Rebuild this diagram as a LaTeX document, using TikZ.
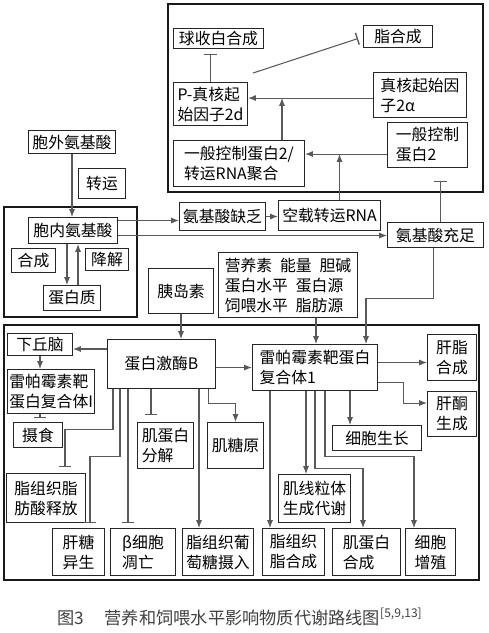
\documentclass[tikz,border=0pt]{standalone}
\usepackage{fontspec}
\setmainfont{Noto Sans CJK SC}
\usetikzlibrary{arrows.meta,calc}

\tikzset{
  box/.style={draw=black!85, line width=0.6pt, inner sep=1pt, anchor=north west, align=left,
    font=\fontsize{9}{11.4}\selectfont},
  frame/.style={draw=black!90, line width=1pt},
  arr/.style={draw=black!65, line width=0.6pt, -{Latex[length=4.5pt,width=3.5pt]}},
  inh/.style={draw=black!65, line width=0.6pt, -{Bar[width=7pt,line width=0.8pt]}},
}

\begin{document}
\begin{tikzpicture}[x=0.02cm, y=-0.02cm]
    \useasboundingbox (0,0) rectangle (488,633);

    % frames
    \draw[frame] (168,4) rectangle (483,192);
    \draw[frame] (4,207) rectangle (137,317);
    \draw[frame] (4,325) rectangle (479,580);

    % top
    \node[box, minimum width=1.8cm, minimum height=0.4cm] (qsb) at (173,28) {球收白合成};
    \node[box, minimum width=1.38cm, minimum height=0.44cm] (zhi) at (363,25) {脂合成};
    \node[box, minimum width=1.48cm, minimum height=0.86cm] (peif) at (173,82) {P-真核起\\始因子2d};
    \node[box, minimum width=1.86cm, minimum height=0.9cm] (eif) at (373,72) {真核起始因\\子2α};
    \node[box, minimum width=1.6cm, minimum height=0.9cm] (gcn) at (387,122) {一般控制\\蛋白2};
    \node[box, minimum width=2.62cm, minimum height=0.92cm] (gcnt) at (173,140) {一般控制蛋白2/\\转运RNA聚合};

    % left
    \node[box, minimum width=1.74cm, minimum height=0.46cm] (extaa) at (28,130) {胞外氨基酸};
    \node[box, minimum width=0.94cm, minimum height=0.6cm] (trans) at (78,168) {转运};
    \node[box, minimum width=1.78cm, minimum height=0.52cm] (intaa) at (28,217) {胞内氨基酸};
    \node[box, minimum width=0.88cm, minimum height=0.48cm] (syn) at (11,248) {合成};
    \node[box, minimum width=0.86cm, minimum height=0.44cm] (deg) at (85,248) {降解};
    \node[box, minimum width=1.14cm, minimum height=0.5cm] (prot) at (43,285) {蛋白质};

    % middle
    \node[box, minimum width=1.72cm, minimum height=0.56cm] (lack) at (179,202) {氨基酸缺乏};
    \node[box, minimum width=2.04cm, minimum height=0.6cm] (trna) at (278,200) {空载转运RNA};
    \node[box, minimum width=1.92cm, minimum height=0.5cm] (suff) at (387,222) {氨基酸充足};
    \node[box, minimum width=2.78cm, minimum height=1.3cm] (nutr) at (218,252)
        {营养素\enspace 能量\enspace 胆碱\\蛋白水平\enspace 蛋白源\\饲喂水平\enspace 脂肪源};
    \node[box, minimum width=1.3cm, minimum height=0.9cm] (ins) at (148,268) {胰岛素};

    % lower
    \node[box, minimum width=1.3cm, minimum height=0.44cm] (hyp) at (7,333) {下丘脑};
    \node[box, minimum width=2.16cm, minimum height=0.98cm] (pkb) at (107,339) {蛋白激酶B};
    \node[box, minimum width=1.74cm, minimum height=0.88cm] (tor1i) at (7,369) {雷帕霉素靶\\蛋白复合体I};
    \node[box, minimum width=0.98cm, minimum height=0.5cm] (eat) at (13,422) {摄食};
    \node[box, minimum width=1.58cm, minimum height=0.98cm] (lipo) at (6,473) {脂组织脂\\肪酸释放};
    \node[box, minimum width=1.12cm, minimum height=0.92cm] (mpd) at (137,422) {肌蛋白\\分解};
    \node[box, minimum width=1.12cm, minimum height=0.92cm] (gly) at (207,422) {肌糖原};
    \node[box, minimum width=2.5cm, minimum height=0.92cm] (tor1) at (252,344) {雷帕霉素靶蛋白\\复合体1};
    \node[box, minimum width=0.98cm, minimum height=0.92cm] (hfat) at (427,334) {肝脂\\合成};
    \node[box, minimum width=0.98cm, minimum height=0.9cm] (hket) at (427,391) {肝酮\\生成};
    \node[box, minimum width=1.78cm, minimum height=0.5cm] (grow) at (332,425) {细胞生长};
    \node[box, minimum width=1.44cm, minimum height=0.96cm] (mito) at (278,474) {肌线粒体\\生成代谢};

    \node[box, minimum width=1.04cm, minimum height=0.94cm] (gng) at (52,528) {肝糖\\异生};
    \node[box, minimum width=1.3cm, minimum height=0.94cm] (beta) at (110,528) {β细胞\\凋亡};
    \node[box, minimum width=1.42cm, minimum height=0.94cm] (glu) at (182,528) {脂组织葡\\萄糖摄入};
    \node[box, minimum width=1.24cm, minimum height=0.94cm] (fsyn) at (262,528) {脂组织\\脂合成};
    \node[box, minimum width=1.36cm, minimum height=0.94cm] (msyn) at (332,528) {肌蛋白\\合成};
    \node[box, minimum width=1.0cm, minimum height=0.94cm] (prol) at (405,528) {细胞\\增殖};

    \node[font=\fontsize{9.8}{12}\selectfont, text=black!75] (cap) at (240,617)
        {图3\hspace{1.2em}营养和饲喂水平影响物质代谢路线图\textsuperscript{[5,9,13]}};

    % top connectors
    \draw[inh, shorten >=0.1cm] (peif.north) -- (peif.north |- qsb.south);
    \draw[inh] ($(peif.north east)+(5,-9)$) -- ($(zhi.west)+(-5,2)$);
    \coordinate (e2a) at ($(eif.west)+(0,3)$);
    \draw[arr] (e2a) -- (e2a -| peif.east);
    \coordinate (g2) at ($(gcn.west)+(0,9)$);
    \draw[arr] (g2) -- (g2 -| gcnt.east);
    \coordinate (g3) at ($(gcnt.north west)+(109,0)$);
    \draw[arr] (g3) -- (g3 |- e2a);
    \coordinate (t1) at ($(trna.north)+(10,0)$);
    \draw[arr] (t1) -- (t1 |- g2);
    \coordinate (s1) at ($(suff.north)+(5,0)$);
    \draw[inh, shorten >=0.26cm] (s1) -- (s1 |- gcn.south);

    % amino acids
    \draw[arr] (extaa.south) -- (extaa.south |- intaa.north);
    \coordinate (i1) at ($(intaa.south)+(-6,0)$);
    \draw[arr] (i1) -- (i1 |- prot.north);
    \coordinate (p1) at ($(prot.north)+(6,0)$);
    \draw[arr] (p1) -- (p1 |- intaa.south);
    \coordinate (i2) at ($(intaa.east)+(0,-10)$);
    \draw[arr] (i2) -- (i2 -| lack.west);
    \coordinate (i3) at ($(intaa.east)+(0,5)$);
    \draw[arr] (i3) -- (i3 -| suff.west);
    \draw[arr] (lack.east) -- (lack.east -| trna.west);

    % into the lower frame
    \coordinate (s2) at ($(suff.south)+(-2,0)$);
    \draw[arr] (s2) -- ++(0,50) -| ($(tor1.north)+(51,0)$);
    \coordinate (n1) at ($(nutr.south)+(28,0)$);
    \draw[arr] (n1) -- (n1 |- tor1.north);
    \draw[arr] (ins.south) -- (ins.south |- pkb.north);

    % protein kinase B
    \coordinate (k1) at ($(pkb.north west)+(0,10)$);
    \draw[arr] (k1) -- (k1 -| hyp.east);
    \draw[arr] (hyp.south) -- (hyp.south |- tor1i.north);
    \draw[inh, shorten >=0.08cm] (hyp.south |- tor1i.south) -- (hyp.south |- eat.north);
    \coordinate (k2) at ($(pkb.south west)+(6,0)$);
    \draw[inh, shorten >=0.12cm] (k2) -- ++(0,40) -| ($(lipo.north west)+(59,0)$);
    \coordinate (k3) at ($(pkb.south west)+(13,0)$);
    \draw[inh, shorten >=0.1cm] (k3) -- ++(0,67) -| ($(gng.north west)+(38,0)$);
    \coordinate (k4) at ($(pkb.south west)+(21,0)$);
    \draw[inh, shorten >=0.1cm] (k4) -- (k4 |- beta.north);
    \coordinate (k5) at ($(pkb.south west)+(44,0)$);
    \draw[inh, shorten >=0.14cm] (k5) -- (k5 |- mpd.north);
    \coordinate (k6) at ($(pkb.south west)+(92,0)$);
    \draw[arr] (k6) -- (k6 |- glu.north);
    \coordinate (k7) at ($(pkb.south east)+(-8,0)$);
    \draw[arr] (k7) -- ++(0,14) -| (gly.north);
    \draw[arr] (pkb.east |- tor1.west) -- (tor1.west);

    % mTORC1
    \coordinate (r1) at ($(tor1.east)+(0,-5)$);
    \draw[arr] (r1) -- (r1 -| hfat.west);
    \coordinate (r2) at ($(tor1.east)+(0,15)$);
    \draw[arr] (r2) -- ++(25,0) |- ($(hket.west)+(0,-11)$);
    \coordinate (r3) at ($(tor1.south)+(35,0)$);
    \draw[arr] (r3) -- (r3 |- grow.north);
    \coordinate (r4) at ($(tor1.south west)+(18,0)$);
    \draw[arr] (r4) -- (r4 |- fsyn.north);
    \coordinate (r5) at ($(tor1.south west)+(54,0)$);
    \draw[arr] (r5) -- (r5 |- mito.north);
    \coordinate (r6) at ($(tor1.south west)+(63,0)$);
    \draw[arr] (r6) -- ++(0,77) -| ($(msyn.north west)+(31,0)$);
    \coordinate (r7) at ($(tor1.south west)+(73,0)$);
    \draw[arr] (r7) -- ++(0,65) -| ($(prol.north west)+(9,0)$);
\end{tikzpicture}
\end{document}
